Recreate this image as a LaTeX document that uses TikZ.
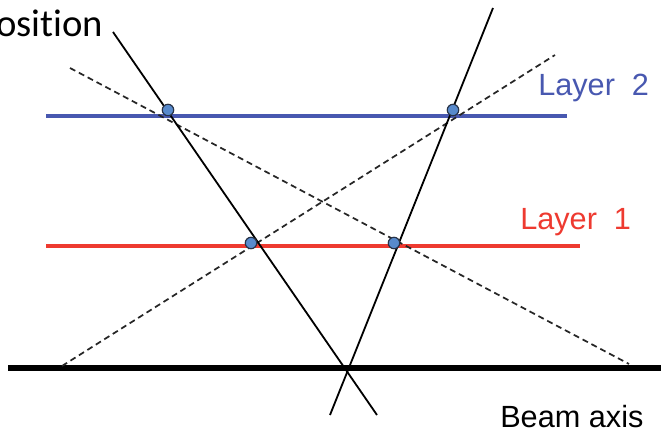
\documentclass[tikz,border=0pt]{standalone}
\usepackage{fontspec}
\setmainfont{Liberation Sans}
\newfontfamily\calibri[RawFeature={-liga;-dlig}]{Carlito}
\definecolor{layerblue}{RGB}{72,88,176}
\definecolor{layerred}{RGB}{238,58,48}
\definecolor{hitfill}{RGB}{88,138,204}
\definecolor{hitdraw}{RGB}{40,50,70}
\begin{document}
\begin{tikzpicture}[x=0.75pt,y=-0.75pt,
  track/.style={draw=black,line width=1.35pt},
  ghost/.style={draw=black!85,line width=1.3pt,dash pattern=on 4.5pt off 3pt},
  layer2/.style={draw=layerblue,line width=2.7pt},
  layer1/.style={draw=layerred,line width=2.7pt},
  beam/.style={draw=black,line width=3.8pt},
  hit/.style={circle,fill=hitfill,draw=hitdraw,line width=0.9pt,minimum size=8.6pt,inner sep=0pt},
  lbl/.style={anchor=base west,font=\fontsize{23}{24}\selectfont}]
\useasboundingbox (0,0) rectangle (661,435);
% coordinates
\coordinate (L2a) at (46,116); \coordinate (L2b) at (567,116);
\coordinate (L1a) at (46,246); \coordinate (L1b) at (580,246);
\coordinate (Ba) at (8,368); \coordinate (Bb) at (668,368);
\coordinate (t1) at (113,32); \coordinate (b1) at (377,415);
\coordinate (t2) at (493,8); \coordinate (b2) at (330,415);
\coordinate (dA1) at (70,68); \coordinate (dA2) at (629,364);
\coordinate (dB1) at (62,366); \coordinate (dB2) at (555,55);
% layers and beam
\draw[layer2] (L2a) -- (L2b);
\draw[layer1] (L1a) -- (L1b);
\draw[beam] (Ba) -- (Bb);
% fake (ghost) tracks
\draw[ghost] (dA1) -- (dA2);
\draw[ghost] (dB1) -- (dB2);
% real tracks
\draw[track] (t1) -- (b1);
\draw[track] (t2) -- (b2);
% hits
\node[hit] (h1) at (168,110) {};
\node[hit] (h2) at (453,110) {};
\node[hit] (h3) at (251,243) {};
\node[hit] (h4) at (394,243) {};
% labels
\node[anchor=base west,inner sep=0pt,font=\calibri\fontsize{29}{30}\selectfont] (pos) at (-4,37) {osition};
\node[lbl,inner sep=0pt,text=layerblue] (lab2) at (538,96) {Layer\ \ 2};
\node[lbl,inner sep=0pt,text=layerred] (lab1) at (520,229) {Layer\ \ 1};
\node[lbl,inner sep=0pt] (labB) at (500,427) {Beam axis};
\end{tikzpicture}
\end{document}
